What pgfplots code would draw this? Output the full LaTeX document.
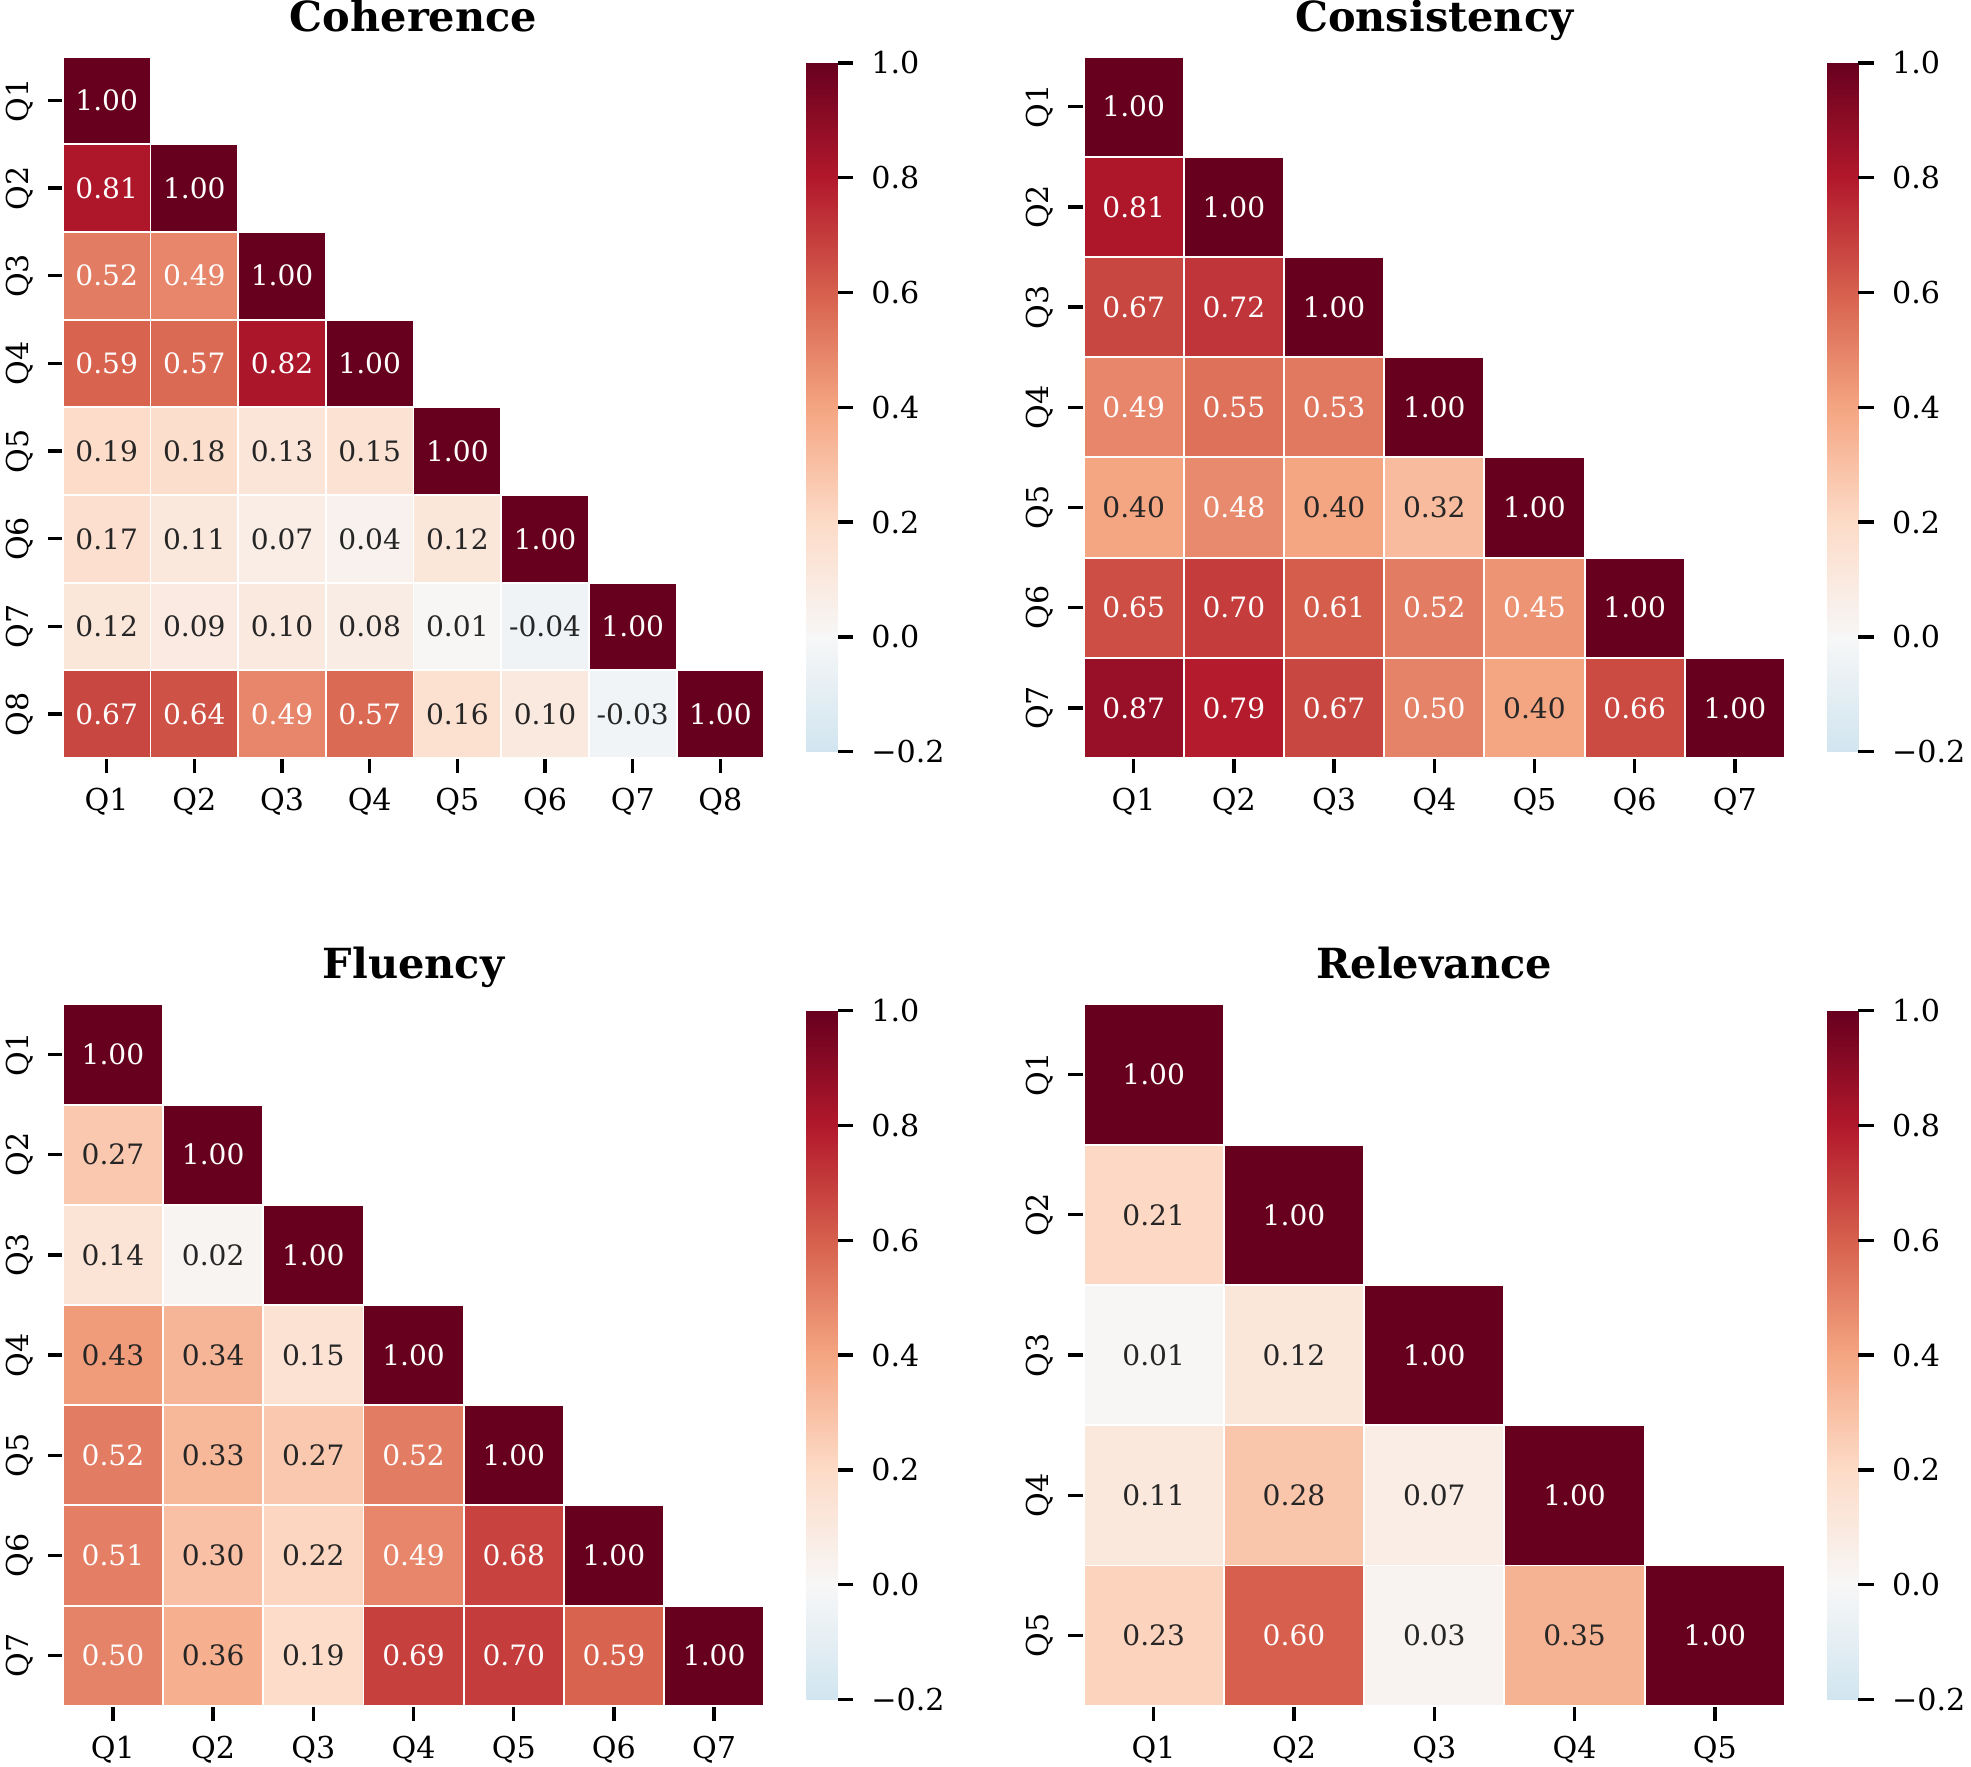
\documentclass[border=0pt]{standalone}
\usepackage{pgfplots}
\pgfplotsset{compat=1.18}
\usepackage{pgfplotstable}
\usepackage{fontspec}
\setmainfont{DejaVu Serif}

\definecolor{annodark}{RGB}{38,38,38}

% Lower-triangle correlation tables: column c, row r, value v, white label w
\pgfplotstableread{
c r v w
0 0 1.00 1
0 1 0.81 1
1 1 1.00 1
0 2 0.52 1
1 2 0.49 1
2 2 1.00 1
0 3 0.59 1
1 3 0.57 1
2 3 0.82 1
3 3 1.00 1
0 4 0.19 0
1 4 0.18 0
2 4 0.13 0
3 4 0.15 0
4 4 1.00 1
0 5 0.17 0
1 5 0.11 0
2 5 0.07 0
3 5 0.04 0
4 5 0.12 0
5 5 1.00 1
0 6 0.12 0
1 6 0.09 0
2 6 0.10 0
3 6 0.08 0
4 6 0.01 0
5 6 -0.04 0
6 6 1.00 1
0 7 0.67 1
1 7 0.64 1
2 7 0.49 1
3 7 0.57 1
4 7 0.16 0
5 7 0.10 0
6 7 -0.03 0
7 7 1.00 1
}\coherence

\pgfplotstableread{
c r v w
0 0 1.00 1
0 1 0.81 1
1 1 1.00 1
0 2 0.67 1
1 2 0.72 1
2 2 1.00 1
0 3 0.49 1
1 3 0.55 1
2 3 0.53 1
3 3 1.00 1
0 4 0.40 0
1 4 0.48 1
2 4 0.40 0
3 4 0.32 0
4 4 1.00 1
0 5 0.65 1
1 5 0.70 1
2 5 0.61 1
3 5 0.52 1
4 5 0.45 1
5 5 1.00 1
0 6 0.87 1
1 6 0.79 1
2 6 0.67 1
3 6 0.50 1
4 6 0.40 0
5 6 0.66 1
6 6 1.00 1
}\consistency

\pgfplotstableread{
c r v w
0 0 1.00 1
0 1 0.27 0
1 1 1.00 1
0 2 0.14 0
1 2 0.02 0
2 2 1.00 1
0 3 0.43 0
1 3 0.34 0
2 3 0.15 0
3 3 1.00 1
0 4 0.52 1
1 4 0.33 0
2 4 0.27 0
3 4 0.52 1
4 4 1.00 1
0 5 0.51 1
1 5 0.30 0
2 5 0.22 0
3 5 0.49 1
4 5 0.68 1
5 5 1.00 1
0 6 0.50 1
1 6 0.36 0
2 6 0.19 0
3 6 0.69 1
4 6 0.70 1
5 6 0.59 1
6 6 1.00 1
}\fluency

\pgfplotstableread{
c r v w
0 0 1.00 1
0 1 0.21 0
1 1 1.00 1
0 2 0.01 0
1 2 0.12 0
2 2 1.00 1
0 3 0.11 0
1 3 0.28 0
2 3 0.07 0
3 3 1.00 1
0 4 0.23 0
1 4 0.60 1
2 4 0.03 0
3 4 0.35 0
4 4 1.00 1
}\relevance

\pgfplotsset{
  colormap={rdbu}{rgb255(0cm)=(209,229,240); rgb255(1cm)=(247,247,247);
    rgb255(2cm)=(253,219,199); rgb255(3cm)=(244,165,130); rgb255(4cm)=(214,96,77);
    rgb255(5cm)=(178,24,43); rgb255(6cm)=(103,0,31)},
  heatmap/.style={
    scale only axis, width=167.4pt, height=167.4pt,
    anchor=north west, clip=false,
    axis line style={draw=none},
    xtick pos=left, ytick pos=left,
    tick align=outside, major tick length=3.6pt,
    tick style={black, line width=0.8pt},
    ticklabel style={font=\fontsize{7.2}{8.6}\selectfont},
    yticklabel style={rotate=90, anchor=south},
    title style={font=\bfseries\fontsize{9.9}{12}\selectfont,
      at={(0.5,1)}, anchor=base, yshift=#1},
    colormap name=rdbu, point meta min=-0.2, point meta max=1,
    colorbar,
    colorbar style={
      at={(parent axis.east)}, anchor=west, xshift=1.5pt,
      scale only axis, width=7.5pt, height=164.4pt,
      axis line style={draw=none},
      ytick={-0.2,0,0.2,0.4,0.6,0.8,1},
      yticklabels={−0.2,0.0,0.2,0.4,0.6,0.8,1.0},
      ytick pos=right, xtick=\empty,
      tick align=outside, major tick length=3.6pt,
      tick style={black, line width=0.8pt},
      yticklabel style={font=\fontsize{7.2}{8.6}\selectfont, xshift=0.9pt},
    },
  },
  % coloured cells
  cellplot/.style={
    scatter, only marks, mark=square*, mark size=#1,
    scatter/use mapped color={draw=white, fill=mapped color},
    mark options={line width=0.45pt},
    point meta=explicit,
  },
  % value labels in the cells
  celltext/.style={
    draw=none, mark=none,
    point meta=explicit symbolic,
    nodes near coords,
    every node near coord/.append style={text=#1, anchor=center, inner sep=0pt,
      font=\fontsize{6.7}{8}\selectfont},
  },
  lightrows/.style={restrict expr to domain={\thisrow{w}}{0.5:1.5}},
  darkrows/.style={restrict expr to domain={\thisrow{w}}{-0.5:0.5}},
}

\begin{document}
\begin{tikzpicture}
\path[use as bounding box] (0,0) rectangle (470.4pt,-421.5pt);

\begin{axis}[heatmap=0pt, at={(15pt,-13.5pt)}, title={Coherence},
  xmin=-0.5, xmax=7.5, ymin=-7.5, ymax=0.5,
  xtick={0,1,2,3,4,5,6,7}, xticklabels={Q1,Q2,Q3,Q4,Q5,Q6,Q7,Q8},
  ytick={-7,-6,-5,-4,-3,-2,-1,0}, yticklabels={Q8,Q7,Q6,Q5,Q4,Q3,Q2,Q1}]
\addplot[cellplot=10.4625pt] table[x=c, y expr=-\thisrow{r}, meta=v] {\coherence};
\addplot[celltext=white, lightrows] table[x=c, y expr=-\thisrow{r}, meta=v] {\coherence};
\addplot[celltext=annodark, darkrows] table[x=c, y expr=-\thisrow{r}, meta=v] {\coherence};
\end{axis}

\begin{axis}[heatmap=0pt, at={(258.6pt,-13.5pt)}, title={Consistency},
  xmin=-0.5, xmax=6.5, ymin=-6.5, ymax=0.5,
  xtick={0,1,2,3,4,5,6}, xticklabels={Q1,Q2,Q3,Q4,Q5,Q6,Q7},
  ytick={-6,-5,-4,-3,-2,-1,0}, yticklabels={Q7,Q6,Q5,Q4,Q3,Q2,Q1}]
\addplot[cellplot=11.9571pt] table[x=c, y expr=-\thisrow{r}, meta=v] {\consistency};
\addplot[celltext=white, lightrows] table[x=c, y expr=-\thisrow{r}, meta=v] {\consistency};
\addplot[celltext=annodark, darkrows] table[x=c, y expr=-\thisrow{r}, meta=v] {\consistency};
\end{axis}

\begin{axis}[heatmap=0.2pt, at={(15pt,-239.7pt)}, title={Fluency},
  xmin=-0.5, xmax=6.5, ymin=-6.5, ymax=0.5,
  xtick={0,1,2,3,4,5,6}, xticklabels={Q1,Q2,Q3,Q4,Q5,Q6,Q7},
  ytick={-6,-5,-4,-3,-2,-1,0}, yticklabels={Q7,Q6,Q5,Q4,Q3,Q2,Q1}]
\addplot[cellplot=11.9571pt] table[x=c, y expr=-\thisrow{r}, meta=v] {\fluency};
\addplot[celltext=white, lightrows] table[x=c, y expr=-\thisrow{r}, meta=v] {\fluency};
\addplot[celltext=annodark, darkrows] table[x=c, y expr=-\thisrow{r}, meta=v] {\fluency};
\end{axis}

\begin{axis}[heatmap=0.2pt, at={(258.6pt,-239.7pt)}, title={Relevance},
  xmin=-0.5, xmax=4.5, ymin=-4.5, ymax=0.5,
  xtick={0,1,2,3,4}, xticklabels={Q1,Q2,Q3,Q4,Q5},
  ytick={-4,-3,-2,-1,0}, yticklabels={Q5,Q4,Q3,Q2,Q1}]
\addplot[cellplot=16.74pt] table[x=c, y expr=-\thisrow{r}, meta=v] {\relevance};
\addplot[celltext=white, lightrows] table[x=c, y expr=-\thisrow{r}, meta=v] {\relevance};
\addplot[celltext=annodark, darkrows] table[x=c, y expr=-\thisrow{r}, meta=v] {\relevance};
\end{axis}
\end{tikzpicture}
\end{document}
